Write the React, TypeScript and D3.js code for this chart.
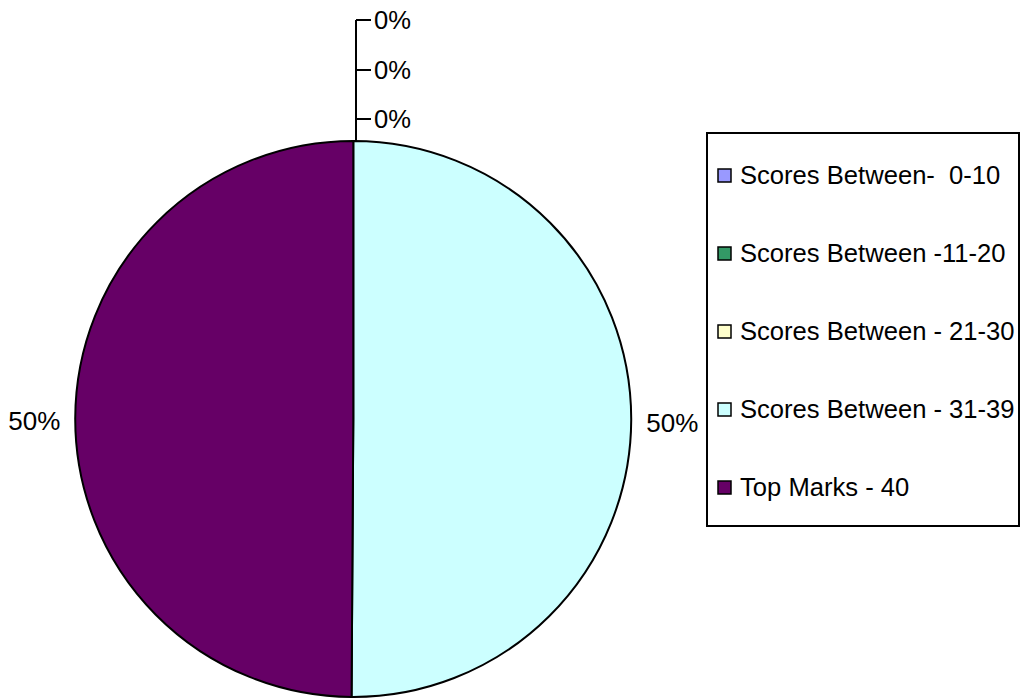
import React from "react";
import * as d3 from "d3";

const categories = [
  "Scores Between-  0-10",
  "Scores Between -11-20",
  "Scores Between - 21-30",
  "Scores Between - 31-39",
  "Top Marks - 40",
];
const values = [0, 0, 0, 50.1, 49.9];
const colors = ["#9999FF", "#339966", "#FFFFCC", "#CCFFFF", "#660066"];

const W = 1021;
const H = 699;
const FONT = "'Liberation Sans', Arial, sans-serif";
const FS = 26;
const FS_LEG = 25.6;

export default function App() {
  const cx = 353.3;
  const cy = 419;
  const r = 278;
  const total = d3.sum(values);
  const pie = d3
    .pie<number>()
    .sort(null)
    .value((d) => d)
    .startAngle(0)
    .endAngle(2 * Math.PI);
  const arcs = pie(values);
  const arcGen = d3.arc<d3.PieArcDatum<number>>().innerRadius(0).outerRadius(r);
  const fmt = (v: number) => `${Math.round((v / total) * 100)}%`;

  const zeroIdx = arcs.map((a, i) => i).filter((i) => values[i] === 0);
  const zeroYs = [119, 70, 20];
  const leaderX = cx + 2.7;
  const tickEnd = leaderX + 15;

  const legendX = 707;
  const legendY = 133;
  const legendW = 312;
  const legendH = 393;
  const legendY0 = 175;
  const legendStep = 78;

  return (
    <svg
      width={W}
      height={H}
      style={{ position: "absolute", left: 0, top: 0, background: "#fff" }}
    >
      <g transform={`translate(${cx},${cy})`}>
        {arcs.map((a, i) =>
          a.endAngle - a.startAngle > 0 ? (
            <path
              key={i}
              d={arcGen(a) || ""}
              fill={colors[i]}
              stroke="#000"
              strokeWidth={2}
              strokeLinejoin="round"
            />
          ) : null
        )}
      </g>
      {arcs.map((a, i) => {
        if (values[i] === 0) return null;
        const mid = (a.startAngle + a.endAngle) / 2;
        const rr = r + 15;
        const x = cx + rr * Math.sin(mid);
        const y = cy - rr * Math.cos(mid) + 3;
        const anchor = Math.sin(mid) > 0 ? "start" : "end";
        return (
          <text
            key={i}
            x={x}
            y={y + 9}
            textAnchor={anchor}
            fontFamily={FONT}
            fontSize={FS}
            fill="#000"
          >
            {fmt(values[i])}
          </text>
        );
      })}
      <path
        d={`M${leaderX},${cy - r} V${zeroYs[zeroYs.length - 1]}`}
        stroke="#000"
        strokeWidth={2}
        fill="none"
      />
      {zeroIdx.map((idx, k) => (
        <g key={idx}>
          <line
            x1={leaderX}
            x2={tickEnd}
            y1={zeroYs[k]}
            y2={zeroYs[k]}
            stroke="#000"
            strokeWidth={2}
          />
          <text
            x={tickEnd + 3}
            y={zeroYs[k] + 9}
            fontFamily={FONT}
            fontSize={FS_LEG}
            fill="#000"
          >
            {fmt(values[idx])}
          </text>
        </g>
      ))}
      <rect
        x={legendX}
        y={legendY}
        width={legendW}
        height={legendH}
        fill="#fff"
        stroke="#000"
        strokeWidth={2}
      />
      {categories.map((c, i) => {
        const y = legendY0 + i * legendStep;
        return (
          <g key={c}>
            <rect
              x={718}
              y={y - 6}
              width={13}
              height={13}
              fill={colors[i]}
              stroke="#000"
              strokeWidth={1.5}
            />
            <text
              x={740}
              y={y + 9}
              fontFamily={FONT}
              fontSize={FS_LEG}
              fill="#000"
              style={{ whiteSpace: "pre" }}
            >
              {c}
            </text>
          </g>
        );
      })}
    </svg>
  );
}
